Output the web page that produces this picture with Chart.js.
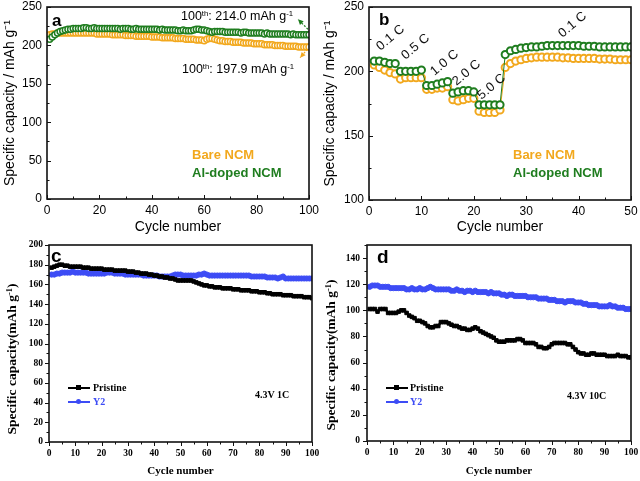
<!DOCTYPE html>
<html>
<head>
<meta charset="utf-8">
<script src="https://cdn.jsdelivr.net/npm/chart.js@4.4.0/dist/chart.umd.min.js"></script>
<style>
  body { margin: 0; background: #fff; width: 640px; height: 481px; position: relative; overflow: hidden; }
  .panel { position: absolute; }
  .panel canvas { display: block; }
  .t { position: absolute; white-space: nowrap; line-height: 1; }
  .sans { font-family: "Liberation Sans", Arial, sans-serif; }
  .serif { font-family: "Liberation Serif", "Times New Roman", serif; font-weight: bold; }
  .c { transform: translate(-50%, -50%); }
  .l { transform: translateY(-50%); }
  sup { font-size: 0.62em; vertical-align: 0.55em; line-height: 0; }
  .rate { font-size: 13px; letter-spacing: 0.3px; color: #111; }
  .vt { transform: translate(-50%, -50%) rotate(-90deg); font-size: 13.5px; }
  .leg { position: absolute; height: 2px; width: 22px; }
  .mk { position: absolute; width: 5px; height: 5px; }
</style>
</head>
<body>
<div class="panel" style="left:0;top:0"><canvas id="chartA" width="320" height="240"></canvas></div>
<div class="panel" style="left:320px;top:0"><canvas id="chartB" width="320" height="240"></canvas></div>
<div class="panel" style="left:0;top:240px"><canvas id="chartC" width="320" height="241"></canvas></div>
<div class="panel" style="left:320px;top:240px"><canvas id="chartD" width="320" height="241"></canvas></div>

<!-- panel a texts -->
<div class="t sans l" style="left:52px;top:20px;font-size:17px;font-weight:bold">a</div>
<div class="t sans l" style="left:181px;top:16px;font-size:12.5px">100<sup>th</sup>: 214.0 mAh g<sup>-1</sup></div>
<div class="t sans l" style="left:182px;top:69px;font-size:12.5px">100<sup>th</sup>: 197.9 mAh g<sup>-1</sup></div>
<div class="t sans l" style="left:192px;top:154px;font-size:13px;font-weight:bold;color:#f2a81d">Bare NCM</div>
<div class="t sans l" style="left:192px;top:172px;font-size:13px;font-weight:bold;color:#1f7d1f">Al-doped NCM</div>

<!-- panel b texts -->
<div class="t sans l" style="left:379px;top:19px;font-size:17px;font-weight:bold">b</div>
<div class="t sans rate" style="left:390px;top:37px;transform:translate(-50%,-50%) rotate(-40deg)">0.1 C</div>
<div class="t sans rate" style="left:415px;top:46px;transform:translate(-50%,-50%) rotate(-40deg)">0.5 C</div>
<div class="t sans rate" style="left:444px;top:62px;transform:translate(-50%,-50%) rotate(-40deg)">1.0 C</div>
<div class="t sans rate" style="left:466px;top:72px;transform:translate(-50%,-50%) rotate(-40deg)">2.0 C</div>
<div class="t sans rate" style="left:491px;top:86px;transform:translate(-50%,-50%) rotate(-40deg)">5.0 C</div>
<div class="t sans rate" style="left:572px;top:24px;transform:translate(-50%,-50%) rotate(-40deg)">0.1 C</div>
<div class="t sans l" style="left:513px;top:154px;font-size:13px;font-weight:bold;color:#f2a81d">Bare NCM</div>
<div class="t sans l" style="left:513px;top:172px;font-size:13px;font-weight:bold;color:#1f7d1f">Al-doped NCM</div>

<!-- panel c texts -->
<div class="t sans l" style="left:51px;top:255px;font-size:19px;font-weight:bold">c</div>
<div class="t serif vt" style="left:12px;top:359px">Specific capacity(mAh g<sup>-1</sup>)</div>
<div class="leg" style="left:68px;top:387px;background:#000"></div>
<div class="mk" style="left:76px;top:385px;background:#000"></div>
<div class="t serif l" style="left:93px;top:388px;font-size:10px">Pristine</div>
<div class="leg" style="left:68px;top:401px;background:#3d4cf5"></div>
<div class="mk" style="left:76px;top:399px;background:#3d4cf5;border-radius:50%"></div>
<div class="t serif l" style="left:93px;top:402px;font-size:10px;color:#3d4cf5">Y2</div>
<div class="t serif l" style="left:255px;top:395px;font-size:10px">4.3V 1C</div>

<!-- panel d texts -->
<div class="t sans l" style="left:377px;top:256px;font-size:19px;font-weight:bold">d</div>
<div class="t serif vt" style="left:331px;top:355px">Specific capacity(mAh g<sup>-1</sup>)</div>
<div class="leg" style="left:386px;top:387px;background:#000"></div>
<div class="mk" style="left:394px;top:385px;background:#000"></div>
<div class="t serif l" style="left:410px;top:388px;font-size:10px">Pristine</div>
<div class="leg" style="left:386px;top:401px;background:#3d4cf5"></div>
<div class="mk" style="left:394px;top:399px;background:#3d4cf5;border-radius:50%"></div>
<div class="t serif l" style="left:410px;top:402px;font-size:10px;color:#3d4cf5">Y2</div>
<div class="t serif l" style="left:567px;top:396px;font-size:10px">4.3V 10C</div>

<script>
// ---- panel a : cycling at 0.1C (cycles 1..100) ----
const aAlDoped = [
  208, 211, 214, 216, 218, 219, 220, 221, 221, 222,
  222, 222, 222, 223, 223, 222, 222, 223, 222, 222,
  222, 222, 222, 222, 222, 222, 222, 221, 222, 222,
  222, 221, 221, 222, 221, 221, 221, 221, 221, 221,
  221, 221, 220, 221, 220, 220, 220, 220, 220, 219,
  219, 220, 219, 219, 219, 220, 221, 221, 220, 220,
  219, 218, 217, 218, 218, 218, 218, 217, 217, 217,
  217, 217, 217, 216, 217, 217, 216, 216, 216, 216,
  216, 216, 215, 216, 215, 215, 215, 215, 215, 215,
  215, 215, 214, 215, 214, 214, 214, 214, 214, 214
];
const aBare = [
  214, 215, 215, 216, 216, 216, 216, 216, 216, 216,
  216, 216, 216, 216, 216, 216, 216, 216, 215, 215,
  215, 215, 215, 215, 214, 214, 214, 214, 214, 213,
  213, 213, 213, 212, 212, 212, 212, 212, 212, 211,
  211, 211, 211, 210, 210, 210, 210, 210, 209, 209,
  209, 209, 208, 208, 208, 208, 207, 207, 207, 206,
  208, 209, 209, 208, 207, 206, 206, 205, 205, 205,
  204, 204, 204, 204, 203, 203, 203, 203, 202, 202,
  202, 202, 201, 201, 201, 201, 200, 200, 200, 200,
  199, 199, 199, 199, 199, 198, 198, 198, 198, 198
];

// ---- panel b : rate capability (cycles 1..50) ----
const bAlDoped = [
  208, 208, 207, 206, 206,
  200, 200, 200, 200, 201,
  189, 189, 190, 191, 192,
  183, 184, 185, 185, 184,
  174, 174, 174, 174, 174,
  213, 216, 217, 218, 218.5, 219, 219, 219.5, 220, 220,
  220, 220, 220, 220, 220, 219.5, 219.5, 219.5, 219, 219,
  219, 219, 219, 219, 219
];
const bBare = [
  205, 203, 201, 199, 198,
  194, 195, 195, 195, 195,
  186, 186, 187, 187, 188,
  178, 177, 178, 179, 179,
  169, 168, 168, 168, 170,
  203, 206, 208, 209, 210, 210.5, 211, 211, 211, 211,
  211, 210.5, 210.5, 210, 210, 210, 210, 210, 209.5, 209.5,
  209.5, 209, 209, 209, 209
];

// ---- panel c : 4.3V 1C (cycles 1..100) ----
const cPristine = [
  177, 178, 179, 180, 180, 179, 179, 178, 178, 178,
  178, 178, 177, 177, 177, 176, 176, 176, 176, 176,
  175, 175, 175, 175, 174, 174, 174, 174, 174, 173,
  173, 173, 172, 172, 171, 171, 171, 170, 170, 169,
  169, 168, 168, 167, 167, 166, 166, 165, 164, 164,
  164, 164, 164, 164, 163, 162, 161, 160, 159, 159,
  158, 158, 157, 157, 157, 156, 156, 156, 156, 155,
  155, 155, 154, 154, 154, 154, 153, 153, 153, 152,
  152, 152, 151, 151, 150, 150, 150, 150, 149, 149,
  149, 149, 148, 148, 148, 148, 147, 147, 147, 146
];
const cY2 = [
  170, 170, 171, 171, 172, 172, 172, 172, 173, 172,
  172, 172, 172, 172, 171, 171, 171, 171, 171, 171,
  171, 172, 172, 172, 171, 171, 171, 171, 170, 170,
  170, 170, 170, 170, 170, 169, 169, 169, 169, 169,
  169, 168, 168, 168, 168, 168, 169, 170, 170, 170,
  169, 169, 169, 169, 169, 169, 170, 170, 171, 170,
  169, 169, 169, 169, 169, 169, 169, 169, 169, 169,
  169, 169, 169, 169, 169, 169, 168, 168, 168, 168,
  168, 168, 167, 167, 167, 167, 166, 167, 168, 166,
  166, 166, 166, 166, 166, 166, 166, 166, 166, 166
];

// ---- panel d : 4.3V 10C (cycles 1..100) ----
const dPristine = [
  101, 101, 101, 99, 101, 101, 101, 98, 98, 98,
  98, 99, 100, 100, 98, 96, 95, 94, 92, 92,
  91, 90, 88, 87, 87, 88, 88, 91, 91, 91,
  90, 89, 88, 88, 87, 86, 86, 85, 85, 86,
  87, 86, 84, 83, 82, 81, 80, 79, 77, 76,
  76, 76, 77, 77, 77, 77, 78, 78, 77, 75,
  75, 75, 75, 74, 72, 72, 71, 71, 72, 74,
  75, 75, 75, 75, 75, 74, 74, 72, 70, 68,
  67, 67, 66, 66, 67, 67, 66, 66, 66, 66,
  65, 65, 65, 65, 66, 65, 65, 65, 64, 64
];
const dY2 = [
  118, 119, 119, 119, 118, 118, 118, 118, 117, 117,
  117, 117, 117, 117, 116, 116, 117, 116, 116, 117,
  116, 116, 117, 118, 117, 116, 116, 116, 116, 116,
  116, 115, 115, 116, 115, 115, 114, 115, 115, 114,
  115, 114, 114, 114, 114, 113, 114, 113, 113, 113,
  112, 112, 111, 112, 112, 111, 111, 111, 111, 111,
  110, 110, 110, 110, 109, 109, 109, 109, 108, 108,
  108, 107, 107, 107, 106, 107, 107, 107, 106, 106,
  106, 105, 105, 104, 104, 104, 104, 103, 103, 103,
  103, 104, 103, 103, 102, 102, 102, 101, 101, 101
];

const ORANGE = "#f2a81d";
const GREEN = "#1f7d1f";
const BLUE = "#3d4cf5";
const SANS = '"Liberation Sans", Arial, sans-serif';
const SERIF = '"Liberation Serif", "Times New Roman", serif';

const toPoints = (arr) => arr.map((v, i) => ({ x: i + 1, y: v }));

// frame box + major/minor ticks, and optional dashed arrows (data coords)
const framePlugin = {
  id: "frame",
  afterDatasetsDraw(chart, args, opts) {
    const { ctx, chartArea: a } = chart;
    const xs = chart.scales.x;
    const ys = chart.scales.y;
    ctx.save();
    ctx.strokeStyle = "#111";
    ctx.lineWidth = opts.width || 1.5;
    ctx.strokeRect(a.left, a.top, a.right - a.left, a.bottom - a.top);

    const dir = opts.inward ? -1 : 1;
    ctx.lineWidth = 1;
    ctx.beginPath();
    for (let v = xs.min; v <= xs.max + 1e-6; v += opts.minorX) {
      const px = Math.round(xs.getPixelForValue(v)) + 0.5;
      const len = Math.abs(v % opts.majorX) < 1e-6 ? 4 : 2.5;
      ctx.moveTo(px, a.bottom);
      ctx.lineTo(px, a.bottom + dir * len);
    }
    for (let v = ys.min; v <= ys.max + 1e-6; v += opts.minorY) {
      const py = Math.round(ys.getPixelForValue(v)) + 0.5;
      const len = Math.abs((v - ys.min) % opts.majorY) < 1e-6 ? 4 : 2.5;
      ctx.moveTo(a.left, py);
      ctx.lineTo(a.left - dir * len, py);
    }
    ctx.stroke();

    (opts.arrows || []).forEach((ar) => {
      const x0 = xs.getPixelForValue(ar.from[0]);
      const y0 = ys.getPixelForValue(ar.from[1]);
      const x1 = xs.getPixelForValue(ar.to[0]);
      const y1 = ys.getPixelForValue(ar.to[1]);
      ctx.strokeStyle = ar.color;
      ctx.fillStyle = ar.color;
      ctx.lineWidth = 1.2;
      ctx.setLineDash([2, 1.5]);
      ctx.beginPath();
      ctx.moveTo(x0, y0);
      ctx.lineTo(x1, y1);
      ctx.stroke();
      ctx.setLineDash([]);
      const ang = Math.atan2(y1 - y0, x1 - x0);
      ctx.beginPath();
      ctx.moveTo(x1, y1);
      ctx.lineTo(x1 - 6 * Math.cos(ang - 0.45), y1 - 6 * Math.sin(ang - 0.45));
      ctx.lineTo(x1 - 6 * Math.cos(ang + 0.45), y1 - 6 * Math.sin(ang + 0.45));
      ctx.closePath();
      ctx.fill();
    });
    ctx.restore();
  },
};

function buildChart(id, o) {
  return new Chart(document.getElementById(id), {
    type: "line",
    data: { datasets: o.datasets },
    options: {
      responsive: false,
      animation: false,
      layout: { padding: { top: o.padTop, right: o.padRight, left: 0, bottom: 0 } },
      plugins: {
        legend: { display: false },
        tooltip: { enabled: false },
        frame: o.frame,
      },
      scales: {
        x: {
          type: "linear",
          min: o.x.min,
          max: o.x.max,
          afterFit: (s) => { s.height = o.x.size; s.paddingLeft = 0; s.paddingRight = 0; },
          grid: { display: false, drawTicks: false },
          border: { display: false },
          ticks: { stepSize: o.x.step, font: o.tickFont, color: "#000", padding: o.x.tickPad, maxRotation: 0, autoSkip: false },
          title: { display: true, text: "Cycle number", font: o.titleFont, color: "#000", padding: { top: 0, bottom: o.x.titlePad } },
        },
        y: {
          type: "linear",
          min: o.y.min,
          max: o.y.max,
          afterFit: (s) => { s.width = o.y.size; s.paddingTop = 0; s.paddingBottom = 0; },
          grid: { display: false, drawTicks: false },
          border: { display: false },
          ticks: { stepSize: o.y.step, includeBounds: false, font: o.tickFont, color: "#000", padding: o.y.tickPad },
          title: { display: !!o.y.title, text: o.y.title || "", font: o.yTitleFont || o.titleFont, color: "#000", padding: { top: o.y.titlePad, bottom: 0 } },
        },
      },
    },
    plugins: [framePlugin],
  });
}

const ringStyle = (color, r, bw) => ({
  borderColor: color,
  pointBorderColor: color,
  pointBackgroundColor: "#fff",
  pointRadius: r,
  pointBorderWidth: bw,
  pointStyle: "circle",
});

// a
buildChart("chartA", {
  padTop: 7, padRight: 11,
  tickFont: { family: SANS, size: 12 },
  titleFont: { family: SANS, size: 14 },
  yTitleFont: { family: SANS, size: 14 },
  x: { min: 0, max: 100, step: 20, size: 41, tickPad: 4, titlePad: 4 },
  y: { min: 0, max: 250, step: 50, size: 47, tickPad: 5, titlePad: 2, title: "Specific capacity / mAh g\u207B\u00B9" },
  frame: {
    inward: true, minorX: 10, majorX: 20, minorY: 25, majorY: 50, width: 1.6,
    arrows: [
      { from: [99.6, 221], to: [95.8, 234], color: GREEN },
      { from: [99.4, 195], to: [96.6, 184], color: ORANGE },
    ],
  },
  datasets: [
    Object.assign({ label: "Al-doped NCM", data: toPoints(aAlDoped), showLine: false }, ringStyle(GREEN, 3, 1.5)),
    Object.assign({ label: "Bare NCM", data: toPoints(aBare), showLine: false }, ringStyle(ORANGE, 3, 1.5)),
  ],
});

// b
buildChart("chartB", {
  padTop: 7, padRight: 9,
  tickFont: { family: SANS, size: 12 },
  titleFont: { family: SANS, size: 14 },
  yTitleFont: { family: SANS, size: 14 },
  x: { min: 0, max: 50, step: 10, size: 40, tickPad: 4, titlePad: 4 },
  y: { min: 100, max: 250, step: 50, size: 49, tickPad: 5, titlePad: 2, title: "Specific capacity / mAh g\u207B\u00B9" },
  frame: { inward: true, minorX: 5, majorX: 10, minorY: 25, majorY: 50, width: 1.6 },
  datasets: [
    Object.assign({ label: "Al-doped NCM", data: toPoints(bAlDoped), borderWidth: 1 }, ringStyle(GREEN, 3.6, 2)),
    Object.assign({ label: "Bare NCM", data: toPoints(bBare), borderWidth: 1 }, ringStyle(ORANGE, 3.6, 2)),
  ],
});

// c
const solidStyle = (color, shape, r) => ({
  borderColor: color,
  backgroundColor: color,
  pointBorderColor: color,
  pointBackgroundColor: color,
  pointStyle: shape,
  pointRadius: r,
  pointBorderWidth: 1,
  borderWidth: 2.5,
});

buildChart("chartC", {
  padTop: 5, padRight: 8,
  tickFont: { family: SERIF, size: 9.5, weight: "bold" },
  titleFont: { family: SERIF, size: 11, weight: "bold" },
  x: { min: 0, max: 100, step: 10, size: 39, tickPad: 6, titlePad: 3 },
  y: { min: 0, max: 200, step: 20, size: 49, tickPad: 6, titlePad: 3 },
  frame: { inward: false, minorX: 5, majorX: 10, minorY: 10, majorY: 20, width: 1.6 },
  datasets: [
    Object.assign({ label: "Pristine", data: toPoints(cPristine) }, solidStyle("#000", "rect", 2.5)),
    Object.assign({ label: "Y2", data: toPoints(cY2) }, solidStyle(BLUE, "circle", 2.6)),
  ],
});

// d
buildChart("chartD", {
  padTop: 4, padRight: 9,
  tickFont: { family: SERIF, size: 9.5, weight: "bold" },
  titleFont: { family: SERIF, size: 11, weight: "bold" },
  x: { min: 0, max: 100, step: 10, size: 40, tickPad: 6, titlePad: 3 },
  y: { min: 0, max: 150, step: 20, size: 47, tickPad: 7, titlePad: 3 },
  frame: { inward: false, minorX: 5, majorX: 10, minorY: 10, majorY: 20, width: 1.6 },
  datasets: [
    Object.assign({ label: "Pristine", data: toPoints(dPristine) }, solidStyle("#000", "rect", 2.5)),
    Object.assign({ label: "Y2", data: toPoints(dY2) }, solidStyle(BLUE, "circle", 2.6)),
  ],
});
</script>
</body>
</html>
